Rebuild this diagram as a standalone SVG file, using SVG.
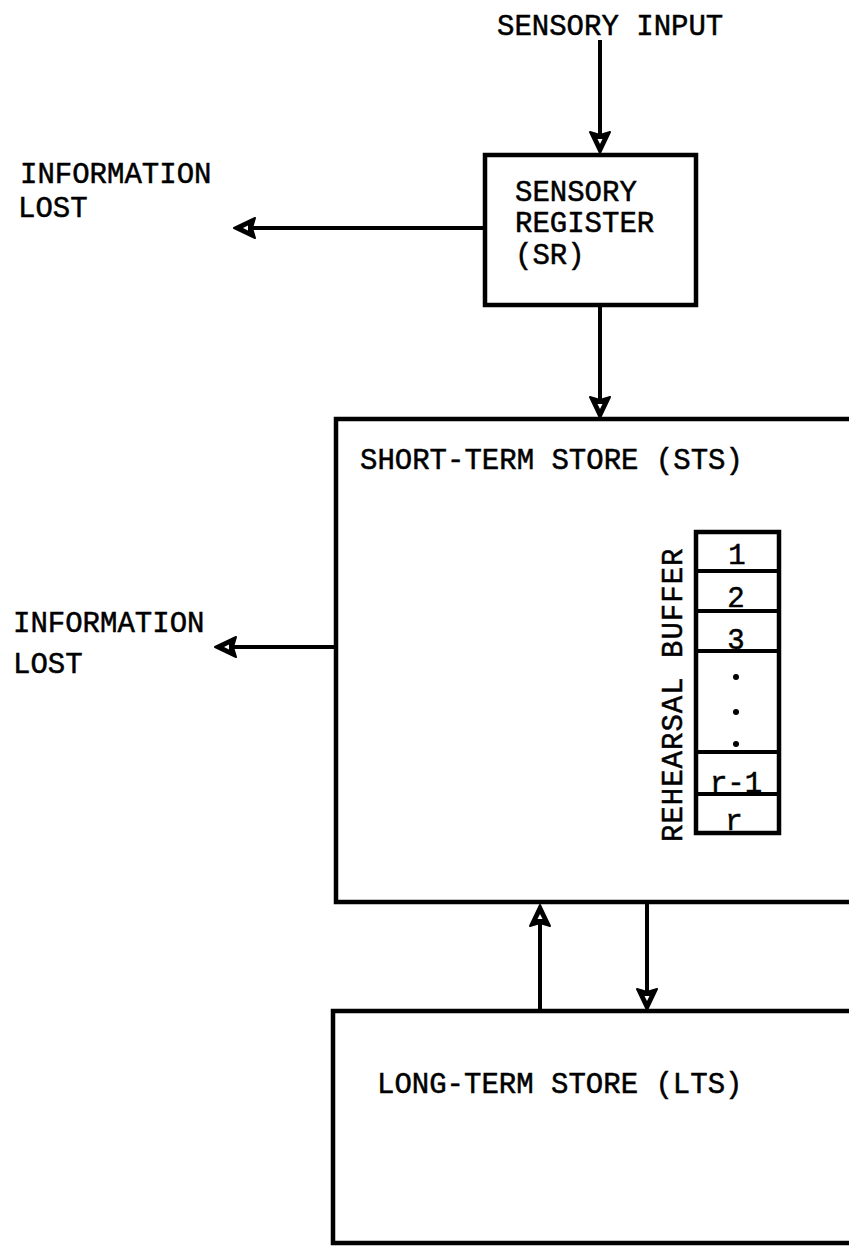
<svg xmlns="http://www.w3.org/2000/svg" width="849" height="1247" viewBox="0 0 849 1247">
<style>
.t{font-family:"Liberation Mono","DejaVu Sans Mono",monospace;font-size:29px;fill:#000;stroke:#000;stroke-width:0.5}
.box{fill:none;stroke:#000;stroke-width:4.5}
.ln{fill:none;stroke:#000;stroke-width:4}
.thin{fill:none;stroke:#000;stroke-width:4}
.head{fill:#000;stroke:#000;stroke-width:2;stroke-linejoin:round}
.hole{fill:#fff}
</style>
<defs>
<g id="ah">
<path class="head" d="M0,0 L-21,-10 L-18,0 L-21,10 Z"/>
<path class="hole" d="M-9,0 L-14,-2.5 L-14,2.5 Z"/>
</g>
</defs>
<rect width="849" height="1247" fill="#fff"/>
<g id="connectors">
<line class="ln" x1="600" y1="40" x2="600" y2="138"/>
<use href="#ah" transform="translate(600,153) rotate(90)"/>
<line class="ln" x1="485" y1="228" x2="250" y2="228"/>
<use href="#ah" transform="translate(234,228) rotate(180)"/>
<line class="ln" x1="600" y1="305" x2="600" y2="403"/>
<use href="#ah" transform="translate(600,418) rotate(90)"/>
<line class="ln" x1="336" y1="647" x2="230" y2="647"/>
<use href="#ah" transform="translate(215,647) rotate(180)"/>
<line class="ln" x1="540" y1="1011" x2="540" y2="920"/>
<use href="#ah" transform="translate(540,905) rotate(-90)"/>
<line class="ln" x1="647" y1="903" x2="647" y2="995"/>
<use href="#ah" transform="translate(647,1010) rotate(90)"/>
</g>
<g id="sensory-input">
<text class="t" x="497" y="35">SENSORY INPUT</text>
</g>
<g id="info-lost-1">
<text class="t" x="20" y="183">INFORMATION</text>
<text class="t" x="18" y="217">LOST</text>
</g>
<g id="sensory-register">
<rect class="box" x="485" y="155" width="211" height="150"/>
<text class="t" x="515" y="201">SENSORY</text>
<text class="t" x="515" y="232">REGISTER</text>
<text class="t" x="515" y="264">(SR)</text>
</g>
<g id="info-lost-2">
<text class="t" x="13" y="632">INFORMATION</text>
<text class="t" x="13" y="673">LOST</text>
</g>
<g id="short-term-store">
<rect class="box" x="336" y="419" width="530" height="483"/>
<text class="t" x="360" y="469">SHORT-TERM STORE (STS)</text>
</g>
<g id="rehearsal-buffer">
<text class="t" letter-spacing="1" transform="translate(682,842) rotate(-90)">REHEARSAL BUFFER</text>
<rect class="box" x="696" y="532" width="83" height="301"/>
<line class="thin" x1="696" y1="571" x2="779" y2="571"/>
<line class="thin" x1="696" y1="611" x2="779" y2="611"/>
<line class="thin" x1="696" y1="651" x2="779" y2="651"/>
<line class="thin" x1="696" y1="752" x2="779" y2="752"/>
<line class="thin" x1="696" y1="794" x2="779" y2="794"/>
<g class="t" text-anchor="middle">
<text x="737" y="564">1</text>
<text x="736" y="607">2</text>
<text x="736" y="649">3</text>
<text x="736" y="792">r-1</text>
<text x="734" y="830">r</text>
</g>
<circle cx="736" cy="677" r="3"/>
<circle cx="736" cy="712" r="3"/>
<circle cx="736" cy="744" r="3"/>
</g>
<g id="long-term-store">
<rect class="box" x="333" y="1011" width="533" height="232"/>
<text class="t" x="377" y="1093">LONG-TERM STORE (LTS)</text>
</g>
</svg>
